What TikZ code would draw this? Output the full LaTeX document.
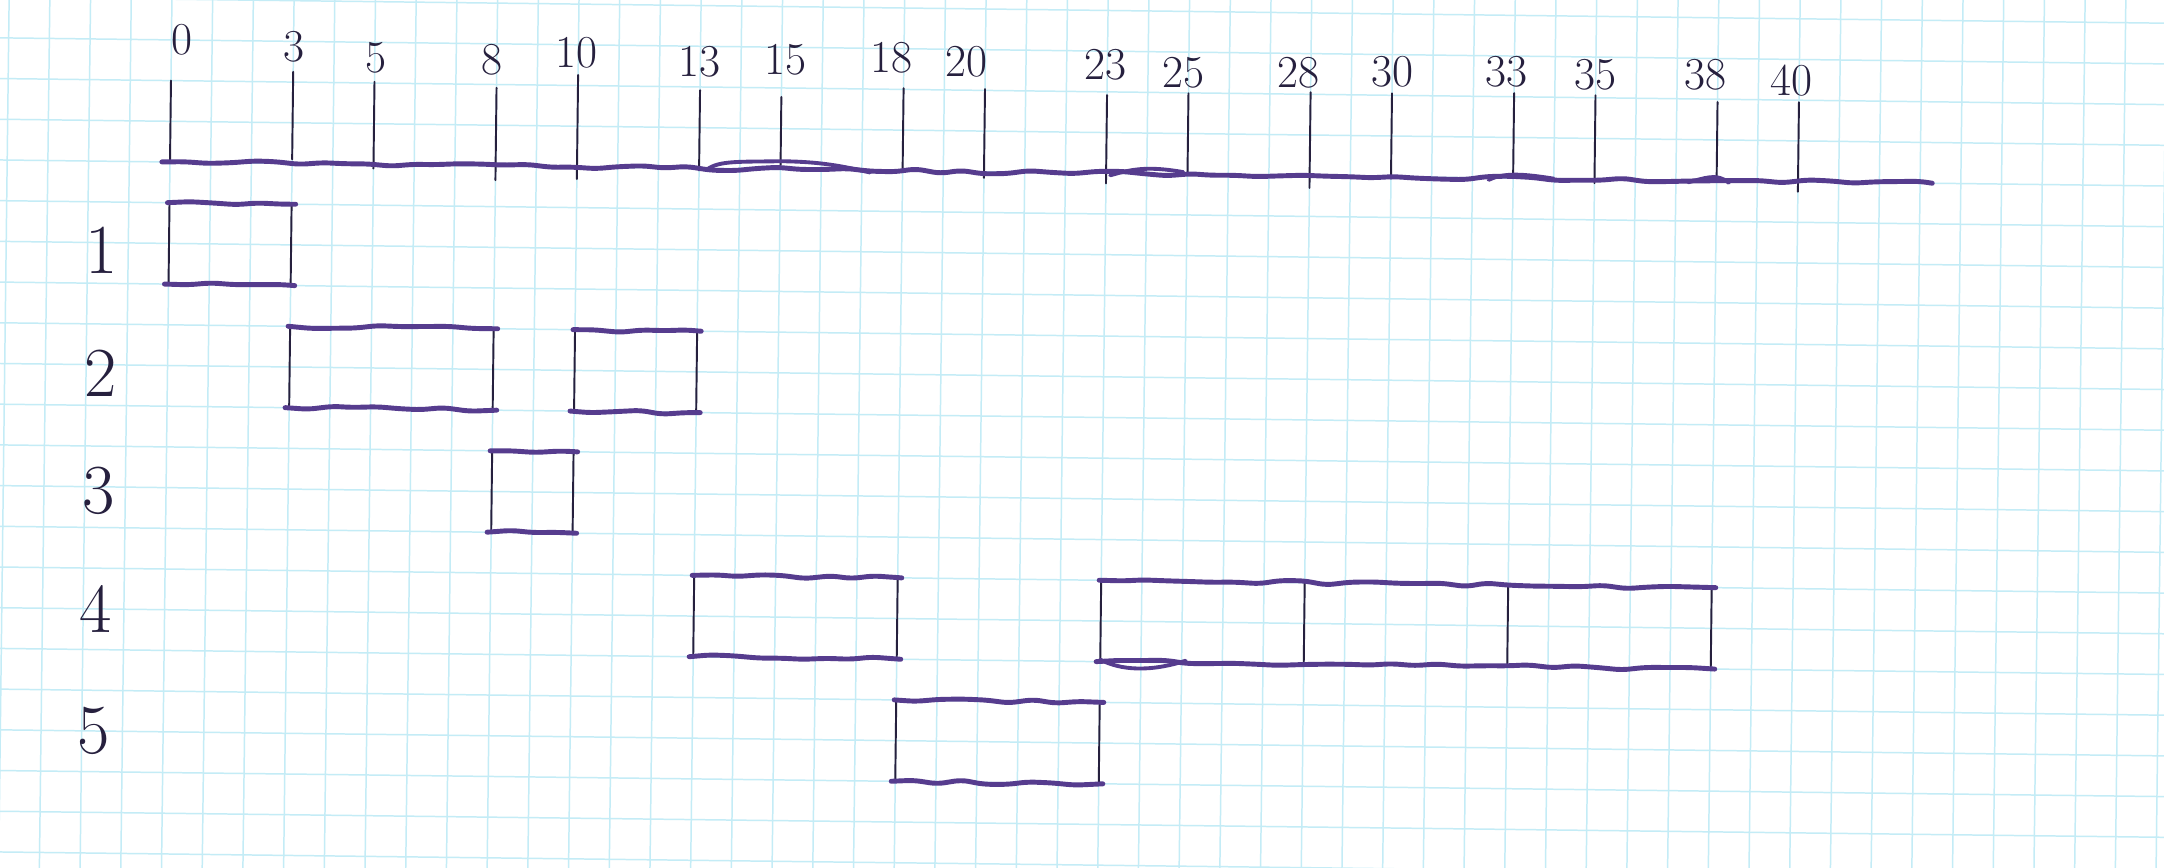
\documentclass[tikz,border=0pt]{standalone}
\usepackage{fontspec}
\usetikzlibrary{decorations.pathmorphing}
\definecolor{inkc}{RGB}{86,60,142}
\definecolor{penc}{RGB}{38,32,62}
\definecolor{gridc}{RGB}{196,236,246}
\pgfmathsetseed{7}
\tikzset{
  inkline/.style={draw=inkc, line width=2.8pt, line cap=round, line join=round,
    rounded corners=4pt,
    decorate, decoration={random steps, segment length=13pt, amplitude=1.2pt}},
  inksoft/.style={draw=inkc, line width=2.2pt, line cap=round, line join=round},
  penline/.style={draw=penc, line width=1.1pt, line cap=round},
  ticklbl/.style={text=penc, font=\fontsize{26}{30}\selectfont, inner sep=0pt},
  rowlbl/.style={text=penc, font=\fontsize{40}{44}\selectfont, inner sep=0pt},
  gridline/.style={draw=gridc, line width=0.85pt}
}
\newcommand\gbox[3]{%
  \draw[penline] (#1,#3) -- (#1,#3+2);
  \draw[penline] (#2,#3) -- (#2,#3+2);
  \draw[inkline] (#1-0.05,#3) -- (#2+0.1,#3);
  \draw[inkline] (#1-0.1,#3+2) -- (#2+0.1,#3+2);}
\begin{document}
\begin{tikzpicture}
\useasboundingbox (0,0) rectangle (43.28cm,-17.34cm);
\fill[white] (0,0) rectangle (43.28cm,-17.34cm);
\begin{scope}
\clip (0,0) rectangle (43.28cm,-17.34cm);
\begin{scope}[shift={(3.4cm,-3.24cm)}, x={(0.814cm,-0.0098cm)}, y={(-0.0098cm,-0.814cm)}]
  \foreach \i in {-6,...,50} \draw[gridline] (\i,-6) -- (\i,20);
  \foreach \j in {-6,...,20} \draw[gridline] (-6,\j) -- (50,\j);
\end{scope}
\end{scope}
\begin{scope}[shift={(3.4cm,-3.24cm)}, x={(0.814cm,-0.0098cm)}, y={(-0.0098cm,-0.814cm)}]
  % ticks and labels
  \foreach \t/\lx/\ly/\tt/\tb in {
     0/0.27/-3.0/-2.0/0.0, 3/3.02/-2.86/-2.25/-0.1, 5/5.04/-2.62/-2.03/0.1,
     8/7.89/-2.6/-1.92/0.35, 10/9.95/-2.8/-2.26/0.3, 13/12.97/-2.61/-1.92/0.05,
     15/15.1/-2.69/-1.78/-0.1, 18/17.7/-2.77/-2.03/0.0, 20/19.53/-2.69/-2.03/0.15,
     23/22.95/-2.66/-1.92/0.25, 25/24.86/-2.48/-1.99/-0.05, 28/27.69/-2.52/-2.05/0.3,
     30/30.0/-2.57/-2.05/0.05, 33/32.8/-2.6/-2.09/0.0, 35/35.0/-2.56/-2.06/0.1,
     38/37.7/-2.6/-1.93/0.0, 40/39.8/-2.49/-1.95/0.25}
  {
    \draw[penline] (\t,\tt) -- (\t,\tb);
    \node[ticklbl] (lab\t) at (\lx,\ly) {\t};
  }
  % axis
  \draw[inkline] (-0.2,0) -- (43.3,0);
  \draw[inksoft] (13.2,0.02) .. controls (13.5,-0.2) and (14,-0.17) .. (15,-0.2)
     .. controls (16,-0.2) and (16.5,-0.1) .. (17.2,0.05);
  \draw[inksoft] (23.1,0.05) .. controls (23.6,-0.1) and (24,-0.2) .. (24.9,-0.05);
  \draw[inksoft] (32.4,0.05) .. controls (32.8,-0.15) and (33.3,-0.1) .. (34,0.0);
  \draw[inksoft] (37.3,0.05) .. controls (37.7,-0.05) and (38,-0.2) .. (38.3,0.05);
  % row labels
  \node[rowlbl] (r1) at (-1.65,2.2) {1};
  \node[rowlbl] (r2) at (-1.65,5.2) {2};
  \node[rowlbl] (r3) at (-1.65,8.1) {3};
  \node[rowlbl] (r4) at (-1.7,11.0) {4};
  \node[rowlbl] (r5) at (-1.7,14.0) {5};
  % bars
  \gbox{0}{3}{1}
  \gbox{3}{8}{4}
  \gbox{10}{13}{4}
  \gbox{8}{10}{7}
  \gbox{13}{18}{10}
  \gbox{18}{23}{13}
  % chained bars on row 4
  \foreach \a in {23,28,33,38} \draw[penline] (\a,10) -- (\a,12);
  \draw[inkline] (22.95,10) -- (38.1,10);
  \draw[inkline] (22.9,12) -- (38.1,12);
  \draw[inksoft] (23,11.95) .. controls (23.5,12.2) and (24.2,12.25) .. (25.1,11.95);
\end{scope}
\end{tikzpicture}
\end{document}
